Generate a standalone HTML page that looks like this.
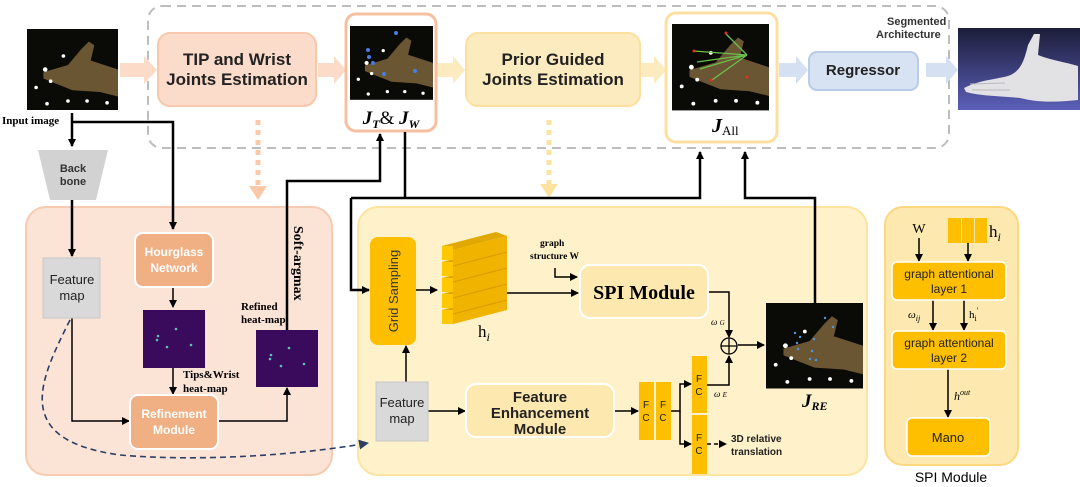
<!DOCTYPE html>
<html><head><meta charset="utf-8"><style>
html,body{margin:0;padding:0;background:#fff}
svg{display:block;font-family:"Liberation Sans",sans-serif}
.b{font-weight:bold}
</style></head><body>
<svg width="1080" height="487" viewBox="0 0 1080 487" xmlns="http://www.w3.org/2000/svg">
<defs>
<marker id="ah" markerWidth="8" markerHeight="8" refX="7" refY="4" orient="auto" markerUnits="userSpaceOnUse"><path d="M0,0 L8,4 L0,8 z" fill="#000"/></marker>
<marker id="ab" markerWidth="10" markerHeight="10" refX="9" refY="5" orient="auto" markerUnits="userSpaceOnUse"><path d="M0,0 L10,5 L0,10 z" fill="#2c3e66"/></marker>
<linearGradient id="hg" x1="0" y1="0" x2="0" y2="1"><stop offset="0" stop-color="#1c1d3a"/><stop offset="1" stop-color="#5b5fb8"/></linearGradient>
<g id="hand">
<rect x="0" y="0" width="100" height="90" fill="#0a0a06"/>
<path d="M18,48 L45,40 L60,22 L68,14 L74,18 L70,35 L100,45 L100,75 L80,70 L50,68 L30,60 L18,55 z" fill="#6b5634"/>
<g fill="#fff"><circle cx="20" cy="45" r="2.5"/><circle cx="40" cy="30" r="2"/><circle cx="26" cy="58" r="2"/><circle cx="10" cy="65" r="2"/><circle cx="22" cy="83" r="2"/><circle cx="45" cy="80" r="2"/><circle cx="66" cy="80" r="2"/><circle cx="88" cy="82" r="2"/></g>
</g>
</defs>

<rect x="148" y="6" width="801" height="142" rx="14" fill="none" stroke="#bdbdbd" stroke-width="2" stroke-dasharray="9,6"/>
<text x="887" y="25" font-size="11" class="b" fill="#333">Segmented</text>
<text x="876" y="38" font-size="11" class="b" fill="#333">Architecture</text>

<rect x="26" y="207" width="306" height="268" rx="20" fill="#fbe3d6" stroke="#f6cbb2" stroke-width="2"/>
<rect x="358" y="207" width="509" height="268" rx="20" fill="#fff1c9" stroke="#fde4a0" stroke-width="2"/>
<rect x="885" y="207" width="133" height="258" rx="18" fill="#fde9b0" stroke="#fdd880" stroke-width="2"/>
<text x="951" y="482" font-size="14" fill="#000" text-anchor="middle">SPI Module</text>

<use href="#hand" transform="translate(27,29) scale(0.91,0.9)"/>
<text x="2" y="124" font-size="11" class="b" font-family="Liberation Serif,serif">Input image</text>

<path d="M120,63 h24 v-7 l13,14 l-13,14 v-7 h-24z" fill="#fcdcc8"/>
<path d="M318,63 h16 v-7 l12,14 l-12,14 v-7 h-16z" fill="#fcdcc8"/>
<path d="M437,63 h16 v-7 l12,14 l-12,14 v-7 h-16z" fill="#fdebc0"/>
<path d="M641,63 h13 v-7 l12,14 l-12,14 v-7 h-13z" fill="#fdebc0"/>
<path d="M779,63 h17 v-7 l12,14 l-12,14 v-7 h-17z" fill="#d5e0f2"/>
<path d="M926,63 h20 v-7 l12,14 l-12,14 v-7 h-20z" fill="#d5e0f2"/>

<rect x="158" y="33" width="158" height="73" rx="12" fill="#fbdccb" stroke="#f7c8ab" stroke-width="2"/>
<text x="237" y="65" font-size="17" class="b" text-anchor="middle" fill="#222">TIP and Wrist</text>
<text x="237" y="85" font-size="17" class="b" text-anchor="middle" fill="#222">Joints Estimation</text>

<rect x="346" y="14" width="90" height="117" rx="10" fill="#fff" stroke="#f5c0a0" stroke-width="3"/>
<use href="#hand" transform="translate(350,26) scale(0.83,0.82)"/>
<g fill="#4a7de0"><circle cx="368" cy="50" r="2"/><circle cx="369" cy="57" r="2"/><circle cx="373" cy="63" r="2"/><circle cx="384" cy="74" r="2"/><circle cx="396" cy="33" r="2"/><circle cx="415" cy="71" r="2"/></g>
<text x="391" y="124" font-size="19" font-family="Liberation Serif,serif" text-anchor="middle"><tspan font-style="italic" font-weight="bold">J</tspan><tspan font-size="12" dy="4" font-style="italic" font-weight="bold">T</tspan><tspan dy="-4">&amp; </tspan><tspan font-style="italic" font-weight="bold">J</tspan><tspan font-size="12" dy="4" font-style="italic" font-weight="bold">W</tspan></text>

<rect x="466" y="33" width="174" height="73" rx="12" fill="#fdebc0" stroke="#fde0a0" stroke-width="2"/>
<text x="553" y="65" font-size="17" class="b" text-anchor="middle" fill="#222">Prior Guided</text>
<text x="553" y="85" font-size="17" class="b" text-anchor="middle" fill="#222">Joints Estimation</text>

<rect x="666" y="13" width="111" height="129" rx="10" fill="#fff" stroke="#fde0a0" stroke-width="3"/>
<use href="#hand" transform="translate(672,24) scale(0.97,0.96)"/>
<g stroke="#6cc04a" stroke-width="1.3" fill="none"><path d="M747,55 L726,34 M747,55 L694,51 M747,55 L697,62 M747,55 L700,69 M747,55 L712,80"/></g>
<g fill="#e03020"><circle cx="726" cy="33" r="1.5"/><circle cx="694" cy="51" r="1.5"/><circle cx="711" cy="80" r="1.5"/><circle cx="747" cy="77" r="1.5"/></g>
<text x="712" y="132" font-size="20" font-family="Liberation Serif,serif"><tspan font-style="italic" font-weight="bold">J</tspan><tspan font-size="13" dy="3">All</tspan></text>

<rect x="809" y="52" width="109" height="38" rx="8" fill="#d7e2f3" stroke="#b8cbe8" stroke-width="2"/>
<text x="863" y="75" font-size="15" class="b" text-anchor="middle" fill="#222">Regressor</text>

<rect x="958" y="28" width="122" height="82" fill="url(#hg)"/>
<path d="M964,88 C980,80 992,80 1008,76 C1020,72 1024,62 1028,45 L1034,34 L1040,34 L1038,55 C1050,60 1065,62 1078,66 L1078,100 C1060,102 1040,103 1020,98 C1000,96 980,96 966,92 z" fill="#e2e2e4"/>
<path d="M970,84 L1005,83 M972,90 L1010,90" stroke="#b8b8c0" stroke-width="1" fill="none"/>

<line x1="258" y1="120" x2="258" y2="188" stroke="#fbc9a8" stroke-width="5" stroke-dasharray="5,5"/>
<path d="M249,186 L267,186 L258,200z" fill="#fbc9a8"/>
<line x1="549" y1="120" x2="549" y2="186" stroke="#fde3a0" stroke-width="5" stroke-dasharray="5,5"/>
<path d="M540,184 L558,184 L549,198z" fill="#fde3a0"/>

<path d="M38,150 L108,150 L96,200 L50,200 z" fill="#d2d2d2"/>
<text x="73" y="172" font-size="11" class="b" text-anchor="middle" fill="#333">Back</text>
<text x="73" y="185" font-size="11" class="b" text-anchor="middle" fill="#333">bone</text>

<g stroke="#000" stroke-width="2.5" fill="none">
<line x1="72" y1="113" x2="72" y2="146" marker-end="url(#ah)"/>
<path d="M72,122 H173 V229" marker-end="url(#ah)"/>
<line x1="72" y1="200" x2="72" y2="256" marker-end="url(#ah)"/>
<path d="M287,330 V181 H380 V134" marker-end="url(#ah)"/>
<path d="M405,132 V198"/>
<path d="M351,198 H700 V152" marker-end="url(#ah)"/>
<path d="M351,198 V290 H369" marker-end="url(#ah)"/>
<path d="M815,303 V198 H745 V152" marker-end="url(#ah)"/>
</g>
<g stroke="#000" stroke-width="1.5" fill="none">
<line x1="173" y1="287" x2="173" y2="307" marker-end="url(#ah)"/>
<line x1="173" y1="368" x2="173" y2="394" marker-end="url(#ah)"/>
<path d="M72,318 V421 H129" marker-end="url(#ah)"/>
<path d="M218,421 H287 V388" marker-end="url(#ah)"/>
<line x1="416" y1="290" x2="437" y2="290" marker-end="url(#ah)"/>
<path d="M555,268 V277 H577" marker-end="url(#ah)"/>
<line x1="507" y1="293" x2="578" y2="293" marker-end="url(#ah)"/>
<path d="M708,292 H729 V337" marker-end="url(#ah)"/>
<line x1="738" y1="345" x2="764" y2="345" marker-end="url(#ah)"/>
<line x1="406" y1="382" x2="406" y2="346" marker-end="url(#ah)"/>
<line x1="428" y1="411" x2="465" y2="411" marker-end="url(#ah)"/>
<line x1="614" y1="411" x2="638" y2="411" marker-end="url(#ah)"/>
<path d="M671,411 H680 V384 H691" marker-end="url(#ah)"/>
<path d="M680,411 V444 H691" marker-end="url(#ah)"/>
<path d="M707,385 H729 V356" marker-end="url(#ah)"/>
<line x1="707" y1="444" x2="726" y2="444" stroke-dasharray="4,3" marker-end="url(#ah)"/>
<line x1="919" y1="238" x2="919" y2="261" marker-end="url(#ah)"/>
<line x1="968" y1="243" x2="968" y2="261" marker-end="url(#ah)"/>
<line x1="933" y1="300" x2="933" y2="330" marker-end="url(#ah)"/>
<line x1="964" y1="300" x2="964" y2="330" marker-end="url(#ah)"/>
<line x1="948" y1="369" x2="948" y2="417" marker-end="url(#ah)"/>
</g>

<rect x="43" y="258" width="57" height="60" fill="#d9d9d9" stroke="#c8c8c8"/>
<text x="72" y="284" font-size="13" text-anchor="middle" fill="#222">Feature</text>
<text x="72" y="300" font-size="13" text-anchor="middle" fill="#222">map</text>
<rect x="135" y="233" width="78" height="54" rx="8" fill="#f0b084" stroke="#fff" stroke-width="2"/>
<text x="174" y="256" font-size="12" class="b" text-anchor="middle" fill="#fff">Hourglass</text>
<text x="174" y="272" font-size="12" class="b" text-anchor="middle" fill="#fff">Network</text>
<rect x="143" y="310" width="62" height="58" fill="#3a0a5c"/>
<g fill="#5fc2b0"><circle cx="158" cy="336" r="1.3"/><circle cx="157" cy="340" r="1.3"/><circle cx="176" cy="329" r="1.3"/><circle cx="167" cy="347" r="1.3"/><circle cx="191" cy="345" r="1.3"/></g>
<text x="183" y="378" font-size="11" class="b" font-family="Liberation Serif,serif">Tips&amp;Wrist</text>
<text x="183" y="392" font-size="11" class="b" font-family="Liberation Serif,serif">heat-map</text>
<rect x="130" y="395" width="88" height="54" rx="8" fill="#f0b084" stroke="#fff" stroke-width="2"/>
<text x="174" y="418" font-size="12" class="b" text-anchor="middle" fill="#fff">Refinement</text>
<text x="174" y="434" font-size="12" class="b" text-anchor="middle" fill="#fff">Module</text>
<rect x="256" y="330" width="62" height="57" fill="#3a0a5c"/>
<g fill="#5fc2b0"><circle cx="271" cy="355" r="1.3"/><circle cx="270" cy="359" r="1.3"/><circle cx="289" cy="348" r="1.3"/><circle cx="281" cy="366" r="1.3"/><circle cx="304" cy="364" r="1.3"/></g>
<text x="241" y="310" font-size="11" class="b" font-family="Liberation Serif,serif">Refined</text>
<text x="241" y="323" font-size="11" class="b" font-family="Liberation Serif,serif">heat-map</text>
<text transform="translate(294,226) rotate(90)" font-size="14" class="b" font-family="Liberation Serif,serif">Soft-argmax</text>
<path d="M70,320 C40,380 10,440 120,455 C200,462 300,455 368,443" fill="none" stroke="#2c3e66" stroke-width="1.6" stroke-dasharray="6,4" marker-end="url(#ab)"/>

<rect x="370" y="237" width="46" height="108" rx="8" fill="#fdbf00"/>
<text transform="translate(398,291) rotate(-90)" font-size="13" text-anchor="middle" fill="#333">Grid Sampling</text>
<g>
<g fill="#e0a800"><path d="M442,246 L496,232 L507,236 L453,250z M442,262 L496,248 L507,252 L453,266z M442,278 L496,264 L507,268 L453,282z M442,294 L496,280 L507,284 L453,298z M442,310 L496,296 L507,300 L453,314z"/></g>
<g fill="#ffc800"><path d="M442,246 h11 v14 h-11z M442,262 h11 v14 h-11z M442,278 h11 v14 h-11z M442,294 h11 v14 h-11z M442,310 h11 v14 h-11z"/></g>
<path d="M453,250 L507,236 L507,310 L453,324z" fill="#f0b400"/>
<path d="M453,266 L507,252 M453,282 L507,268 M453,298 L507,284 M453,314 L507,300" stroke="#d59a00" stroke-width="1"/>
</g>
<text x="478" y="337" font-size="17" font-family="Liberation Serif,serif">h<tspan font-size="12" dy="4" font-style="italic">i</tspan></text>
<text x="540" y="246" font-size="9.5" class="b" font-family="Liberation Serif,serif">graph</text>
<text x="530" y="259" font-size="9.5" class="b" font-family="Liberation Serif,serif">structure W</text>
<rect x="580" y="265" width="128" height="53" rx="10" fill="#fde9b0" stroke="#fff" stroke-width="2"/>
<text x="644" y="299" font-size="20" class="b" font-family="Liberation Serif,serif" text-anchor="middle">SPI Module</text>
<text x="711" y="325" font-size="9" font-style="italic" font-family="Liberation Serif,serif">ω <tspan font-size="7">G</tspan></text>
<circle cx="729" cy="346" r="8" fill="none" stroke="#000" stroke-width="1.3"/>
<path d="M721,346 H737 M729,338 V354" stroke="#000" stroke-width="1.3"/>
<use href="#hand" transform="translate(766,303) scale(0.97,0.95)"/>
<g fill="#4a9ae0"><circle cx="795" cy="333" r="1.2"/><circle cx="800" cy="337" r="1.2"/><circle cx="814" cy="339" r="1.2"/><circle cx="797" cy="343" r="1.2"/><circle cx="798" cy="349" r="1.2"/><circle cx="812" cy="351" r="1.2"/><circle cx="816" cy="360" r="1.2"/><circle cx="810" cy="359" r="1.2"/><circle cx="825" cy="318" r="1.2"/><circle cx="833" cy="327" r="1.2"/></g>
<text x="802" y="407" font-size="19" font-family="Liberation Serif,serif" font-style="italic" font-weight="bold">J<tspan font-size="12" dy="3">RE</tspan></text>
<rect x="376" y="382" width="52" height="59" fill="#d9d9d9" stroke="#c8c8c8"/>
<text x="402" y="407" font-size="13" text-anchor="middle" fill="#222">Feature</text>
<text x="402" y="423" font-size="13" text-anchor="middle" fill="#222">map</text>
<rect x="466" y="384" width="148" height="53" rx="10" fill="#fde9b0" stroke="#fff" stroke-width="2"/>
<text x="540" y="402" font-size="15" class="b" text-anchor="middle" fill="#222">Feature</text>
<text x="540" y="418" font-size="15" class="b" text-anchor="middle" fill="#222">Enhancement</text>
<text x="540" y="434" font-size="15" class="b" text-anchor="middle" fill="#222">Module</text>
<g fill="#fdbf00"><rect x="639" y="382" width="15" height="58"/><rect x="656" y="382" width="15" height="58"/><rect x="692" y="356" width="15" height="57"/><rect x="692" y="415" width="15" height="59"/></g>
<g font-size="10" text-anchor="middle" fill="#222"><text x="646" y="408">F</text><text x="646" y="421">C</text><text x="663" y="408">F</text><text x="663" y="421">C</text><text x="699" y="382">F</text><text x="699" y="395">C</text><text x="699" y="441">F</text><text x="699" y="454">C</text></g>
<text x="714" y="397" font-size="9" font-style="italic" font-family="Liberation Serif,serif">ω <tspan font-size="7">E</tspan></text>
<text x="731" y="442" font-size="10" class="b" fill="#222">3D relative</text>
<text x="731" y="455" font-size="10" class="b" fill="#222">translation</text>

<text x="919" y="233" font-size="14" font-family="Liberation Serif,serif" text-anchor="middle">W</text>
<g fill="#fdbf00"><rect x="948" y="218" width="13" height="25"/><rect x="962" y="218" width="12" height="25"/><rect x="975" y="218" width="12" height="25"/></g>
<text x="989" y="237" font-size="17" font-family="Liberation Serif,serif">h<tspan font-size="12" dy="4" font-style="italic">i</tspan></text>
<rect x="892" y="262" width="114" height="38" rx="5" fill="#fdbf00" stroke="#fff" stroke-width="1.5"/>
<text x="949" y="278" font-size="12" text-anchor="middle" fill="#222">graph attentional</text>
<text x="949" y="293" font-size="12" text-anchor="middle" fill="#222">layer 1</text>
<text x="908" y="318" font-size="11" font-style="italic" font-family="Liberation Serif,serif">ω<tspan font-size="8" dy="3">ij</tspan></text>
<text x="969" y="318" font-size="11" font-family="Liberation Serif,serif">h<tspan font-size="8" dy="3">i</tspan><tspan dy="-8" font-size="8">′</tspan></text>
<rect x="892" y="331" width="114" height="38" rx="5" fill="#fdbf00" stroke="#fff" stroke-width="1.5"/>
<text x="949" y="347" font-size="12" text-anchor="middle" fill="#222">graph attentional</text>
<text x="949" y="362" font-size="12" text-anchor="middle" fill="#222">layer 2</text>
<text x="954" y="400" font-size="12" font-style="italic" font-family="Liberation Serif,serif">h<tspan font-size="8" dy="-5">out</tspan></text>
<rect x="907" y="418" width="83" height="38" rx="5" fill="#fdbf00" stroke="#fff" stroke-width="1.5"/>
<text x="948" y="442" font-size="13" text-anchor="middle" fill="#222">Mano</text>
</svg>
</body></html>
